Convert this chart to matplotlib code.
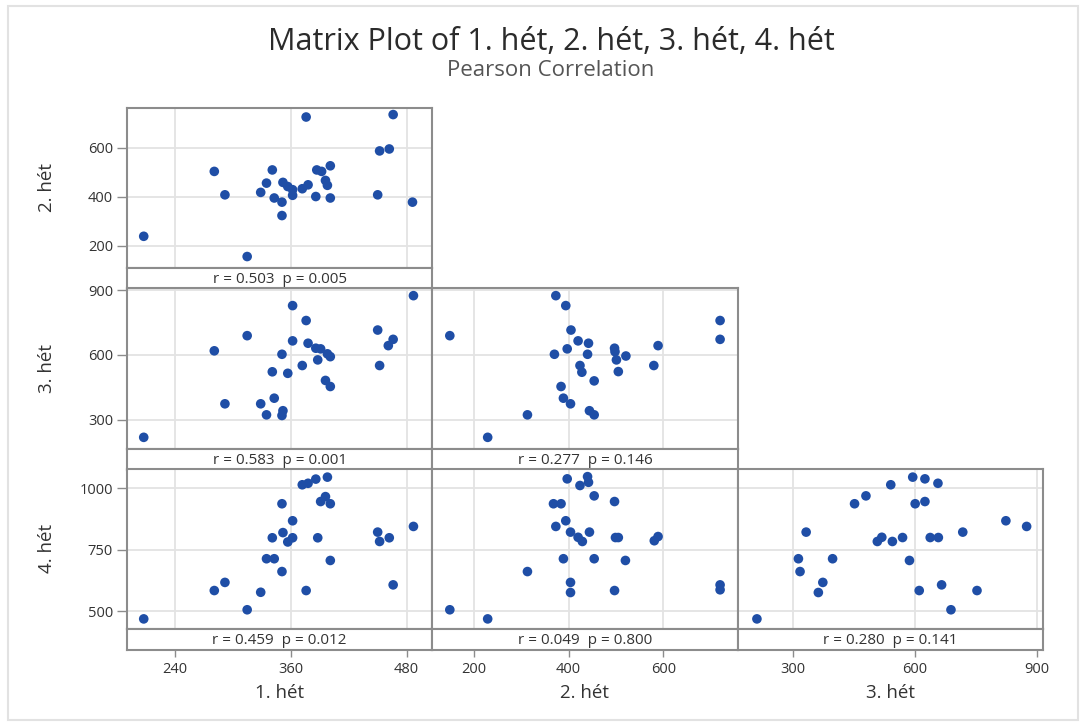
import numpy as np
import matplotlib
matplotlib.use("Agg")
import matplotlib.pyplot as plt
from matplotlib.patches import Rectangle

plt.rcParams['font.family'] = ['Open Sans', 'DejaVu Sans']

# ------------------------------------------------------------
# variables and axis settings
# ------------------------------------------------------------
names = ['1. hét', '2. hét', '3. hét', '4. hét']
ticks = {
    '1. hét': [240, 360, 480],
    '2. hét': [200, 400, 600],
    '3. hét': [300, 600, 900],
    '4. hét': [500, 750, 1000],
}
xlims = {'1. hét': (190.7, 506.5), '2. hét': (112, 757), '3. hét': (164.5, 915)}
ylims = {'2. hét': (108, 766), '3. hét': (166, 908), '4. hét': (429, 1080)}

# ------------------------------------------------------------
# scatter data, one pair of lists per panel
# ------------------------------------------------------------
# 2. hét vs 1. hét
p21_x = [208, 315, 281, 292, 329, 335, 341, 343, 351, 351, 352, 357, 362, 362, 372,
         378, 376, 386, 387, 392, 401, 396, 398, 401, 450, 452, 462, 466, 486]
p21_y = [238, 155, 504, 408, 418, 456, 510, 395, 378, 323, 459, 442, 429, 406, 433,
         449, 727, 401, 510, 504, 527, 467, 447, 395, 408, 588, 596, 737, 378]

# 3. hét vs 1. hét
p31_x = [208, 292, 281, 315, 329, 335, 343, 341, 351, 352, 351, 357, 362, 362, 372,
         376, 378, 386, 391, 388, 398, 401, 396, 401, 450, 452, 461, 466, 487]
p31_y = [219, 374, 619, 689, 374, 323, 400, 522, 603, 342, 320, 515, 665, 828, 551,
         759, 654, 631, 628, 577, 605, 592, 482, 454, 715, 551, 643, 672, 874]

# 4. hét vs 1. hét
p41_x = [208, 281, 292, 315, 329, 335, 343, 341, 351, 351, 352, 357, 362, 362, 372,
         378, 386, 376, 388, 398, 391, 396, 401, 401, 450, 452, 462, 466, 487]
p41_y = [470, 585, 618, 507, 578, 714, 714, 799, 662, 937, 820, 782, 799, 868, 1014,
         1020, 1037, 585, 799, 1045, 946, 966, 937, 707, 822, 784, 799, 608, 845]

# 3. hét vs 2. hét
p32_x = [149, 229, 313, 373, 394, 405, 420, 442, 397, 370, 440, 424, 428, 454, 384,
         389, 404, 444, 454, 497, 498, 501, 521, 505, 580, 589, 720, 720]
p32_y = [689, 219, 323, 874, 828, 715, 665, 654, 628, 603, 603, 551, 520, 480, 454,
         400, 374, 342, 323, 631, 615, 577, 595, 523, 551, 643, 759, 672]

# 4. hét vs 2. hét
p42_x = [149, 229, 313, 397, 424, 440, 442, 454, 368, 384, 497, 394, 373, 404, 420,
         429, 444, 499, 505, 581, 589, 389, 454, 520, 404, 404, 497, 720, 720]
p42_y = [507, 470, 662, 1038, 1011, 1047, 1024, 969, 937, 937, 946, 868, 845, 822, 801,
         784, 822, 800, 800, 787, 804, 714, 714, 707, 618, 577, 585, 608, 588]

# 4. hét vs 3. hét
p43_x = [212, 314, 318, 333, 363, 374, 398, 452, 480, 508, 519, 541, 545, 570, 587,
         595, 601, 625, 625, 657, 611, 638, 658, 666, 689, 718, 753, 824, 875]
p43_y = [470, 714, 662, 822, 577, 618, 714, 937, 969, 784, 801, 1014, 784, 800, 707,
         1045, 937, 946, 1038, 1020, 585, 800, 800, 608, 507, 822, 585, 868, 845]

# Pearson r and p for each panel
stats = {
    (0, 0): (0.503, 0.005),
    (1, 0): (0.583, 0.001),
    (1, 1): (0.277, 0.146),
    (2, 0): (0.459, 0.012),
    (2, 1): (0.049, 0.800),
    (2, 2): (0.280, 0.141),
}
panels = {
    (0, 0): (p21_x, p21_y),
    (1, 0): (p31_x, p31_y),
    (1, 1): (p32_x, p32_y),
    (2, 0): (p41_x, p41_y),
    (2, 1): (p42_x, p42_y),
    (2, 2): (p43_x, p43_y),
}

# ------------------------------------------------------------
# layout in pixels
# ------------------------------------------------------------
W, H = 1086, 726
col_left = [127.0, 432.3, 737.6]
col_w = 305.3
row_top = [107.5, 288.3, 468.5]
plot_h = 160.5
band_h = 20.7

frame_col = '#8c8c8c'
grid_col = '#e3e3e3'
dot_col = '#1f4ea6'
text_col = '#333333'


def px_axes(fig, left, top, width, height):
    return fig.add_axes([left / W, 1 - (top + height) / H, width / W, height / H])


fig = plt.figure(figsize=(W / 100, H / 100), dpi=100)

# light frame round the whole graph
fig.patches.append(Rectangle((8 / W, 6 / H), (1078 - 8) / W, (720 - 6) / H,
                             transform=fig.transFigure, fill=False,
                             edgecolor='#e2e2e2', linewidth=1.5))

for (r, c), (xs, ys) in panels.items():
    xname = names[c]
    yname = names[r + 1]
    ax = px_axes(fig, col_left[c], row_top[r], col_w, plot_h)
    ax.scatter(xs, ys, s=48, color=dot_col, edgecolors='none', zorder=3)
    ax.set_xlim(*xlims[xname])
    ax.set_ylim(*ylims[yname])
    ax.set_xticks(ticks[xname])
    ax.set_yticks(ticks[yname])
    ax.grid(True, color=grid_col, linewidth=1.3)
    ax.set_axisbelow(True)
    ax.tick_params(axis='x', bottom=False, labelbottom=False)
    if c == 0:
        ax.tick_params(axis='y', length=7, width=1, color=frame_col,
                       labelsize=10.5, labelcolor=text_col, pad=3)
        ax.set_ylabel(yname, fontsize=13.5, color=text_col)
        ax.yaxis.set_label_coords(-(127 - 56) / col_w, 0.5)
    else:
        ax.tick_params(axis='y', left=False, labelleft=False)
    for s in ax.spines.values():
        s.set_color(frame_col)
        s.set_linewidth(1.5)

    # strip with the correlation text under the panel
    band = px_axes(fig, col_left[c], row_top[r] + plot_h, col_w, band_h)
    band.set_xlim(*xlims[xname])
    band.set_yticks([])
    rv, pv = stats[(r, c)]
    band.text(0.5, 0.45, f'r = {rv:.3f}  p = {pv:.3f}', transform=band.transAxes,
              ha='center', va='center', fontsize=11, color=text_col)
    for s in band.spines.values():
        s.set_color(frame_col)
        s.set_linewidth(1.5)
    if r == 2:
        band.set_xticks(ticks[xname])
        band.tick_params(axis='x', length=5, width=1, color=frame_col,
                         labelsize=10.5, labelcolor=text_col, pad=4)
        band.set_xlabel(xname, fontsize=13.5, color=text_col, labelpad=5)
    else:
        band.set_xticks([])

fig.text(551 / W, 1 - 42 / H, 'Matrix Plot of 1. hét, 2. hét, 3. hét, 4. hét',
         ha='center', va='center', fontsize=22, color='#2b2b2b')
fig.text(551 / W, 1 - 71 / H, 'Pearson Correlation',
         ha='center', va='center', fontsize=16, color='#555555')

fig.savefig('out.png', dpi=100)
